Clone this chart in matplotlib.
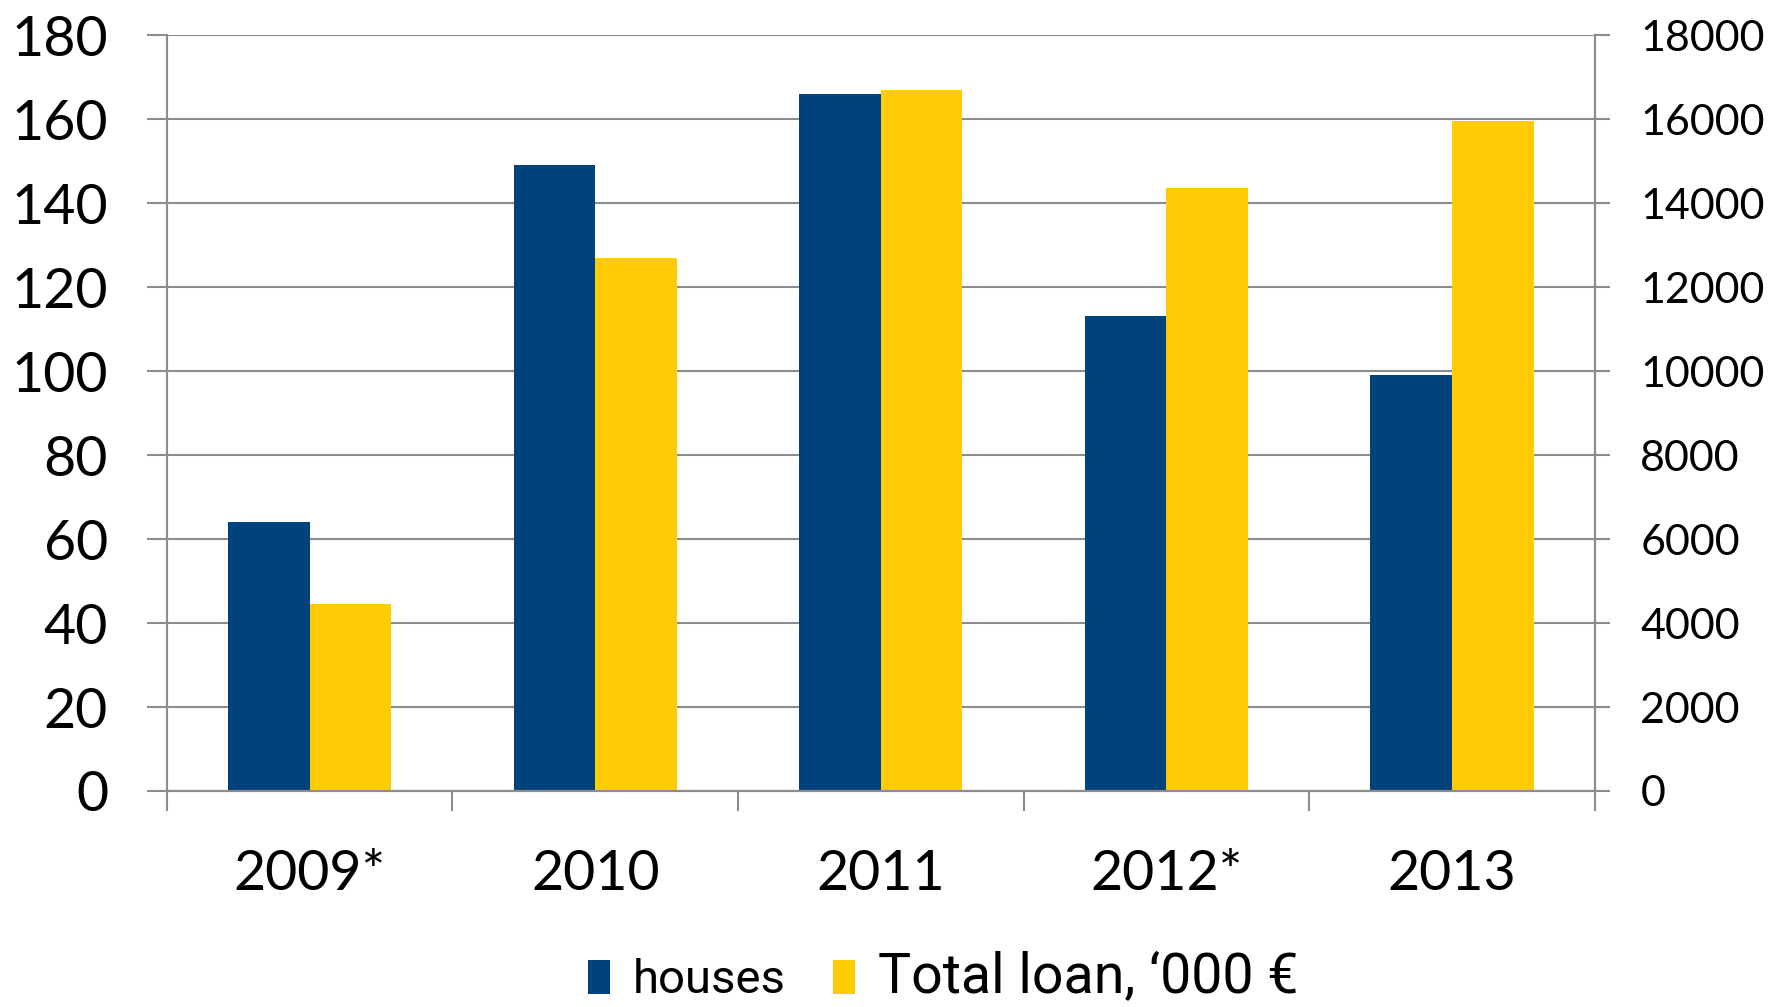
import numpy as np
import matplotlib
matplotlib.use("Agg")
from matplotlib import pyplot as plt

years = ["2009*", "2010", "2011", "2012*", "2013"]
houses = [64, 149, 166, 113, 99]
loan = [4450, 12700, 16700, 14350, 15950]  # '000 EUR

navy = "#00427A"
yellow = "#FFCB05"
gray = "#8C8C8C"

plt.rcParams["font.family"] = ["Lato", "DejaVu Sans"]

fig = plt.figure(figsize=(17.7, 10.07), dpi=100)
ax = fig.add_axes([0.0943, 0.2145, 0.8067, 0.7507])
ax2 = ax.twinx()

x = np.arange(len(years))
w = 1 / 3.5
b1 = ax.bar(x - w / 2, houses, w, color=navy, label="houses", zorder=2)
b2 = ax2.bar(x + w / 2, loan, w, color=yellow, label="Total loan, \u2018000 \u20ac")

ax.set_xlim(-0.5, len(years) - 0.5)
ax.set_ylim(0, 180)
ax.set_yticks(range(0, 181, 20))
ax2.set_ylim(0, 18000)
ax2.set_yticks(range(0, 18001, 2000))

ax.set_axisbelow(True)
ax.grid(axis="y", color=gray, lw=1.5)
ax.grid(axis="x", visible=False)

for a in (ax, ax2):
    a.spines["top"].set_visible(False)
    for s in ("left", "right", "bottom"):
        a.spines[s].set_color(gray)
        a.spines[s].set_linewidth(1.5)

ax.tick_params(axis="y", direction="out", length=14.4, width=1.5, color=gray,
               labelsize=40, pad=28)
ax2.tick_params(axis="y", direction="out", length=10.8, width=1.5, color=gray,
                labelsize=31, pad=22)

ax.set_xticks(x)
ax.set_xticklabels(years)
ax.set_xticks(np.arange(-0.5, len(years)), minor=True)
ax.tick_params(axis="x", which="major", length=0, labelsize=40, pad=42)
ax.tick_params(axis="x", which="minor", direction="out", length=14.4, width=1.5,
               color=gray)

leg = fig.legend([b1, b2], ["houses", "Total loan, \u2018000 \u20ac"],
                 loc="center", bbox_to_anchor=(0.533, 0.029), ncol=2,
                 frameon=False, handlelength=0.45,
                 handleheight=0.75, handletextpad=0.5, columnspacing=1.0,
                 prop={"family": ["Roboto", "DejaVu Sans"], "size": 34})
leg.get_texts()[1].set_fontsize(40)

fig.savefig("out.png", dpi=100)
